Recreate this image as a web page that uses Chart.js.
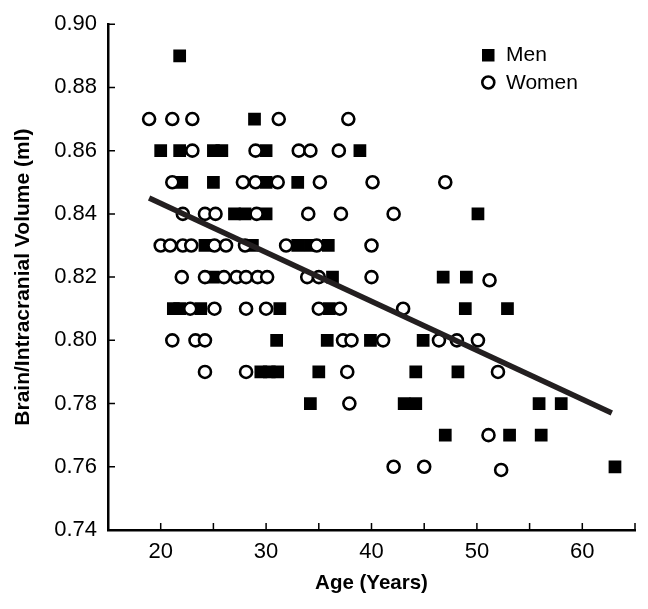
<!DOCTYPE html>
<html>
<head>
<meta charset="utf-8">
<script src="https://cdn.jsdelivr.net/npm/chart.js@4.4.0/dist/chart.umd.min.js"></script>
<style>
body { margin: 0; background: #fff; }
#wrap { width: 648px; height: 609px; }
</style>
</head>
<body>
<div id="wrap"><canvas id="myChart" width="648" height="609"></canvas></div>
<script>
// values
var menAge = [21.8,
    28.9,
    20.0, 21.8, 25.0, 25.8, 30.0, 38.9,
    22.0, 25.0, 30.0, 33.0,
    27.0, 28.0, 30.0, 50.1,
    24.2, 28.7, 33.0, 34.2, 35.9,
    25.0, 36.3, 46.8, 49.0,
    21.2, 21.8, 23.8, 31.3, 36.0, 48.9, 52.9,
    31.0, 35.8, 39.9, 44.9,
    29.5, 30.3, 31.1, 35.0, 44.2, 48.2,
    34.2, 43.1, 44.2, 55.9, 58.0,
    47.0, 53.1, 56.1,
    63.1];
var menVol = [0.89,
    0.87,
    0.86, 0.86, 0.86, 0.86, 0.86, 0.86,
    0.85, 0.85, 0.85, 0.85,
    0.84, 0.84, 0.84, 0.84,
    0.83, 0.83, 0.83, 0.83, 0.83,
    0.82, 0.82, 0.82, 0.82,
    0.81, 0.81, 0.81, 0.81, 0.81, 0.81, 0.81,
    0.80, 0.80, 0.80, 0.80,
    0.79, 0.79, 0.79, 0.79, 0.79, 0.79,
    0.78, 0.78, 0.78, 0.78, 0.78,
    0.77, 0.77, 0.77,
    0.76];
var womenAge = [18.9, 21.1, 23.0, 31.2, 37.8,
    23.0, 29.0, 33.1, 34.2, 36.9,
    21.1, 27.8, 29.0, 31.1, 35.1, 40.1, 47.0,
    22.1, 24.2, 25.2, 29.1, 34.0, 37.1, 42.1,
    20.0, 20.9, 22.1, 22.9, 25.1, 26.2, 28.0, 31.9, 34.8, 40.0,
    22.0, 24.2, 26.0, 27.2, 28.1, 29.2, 30.1, 33.9, 35.0, 40.0, 51.2,
    22.8, 25.1, 28.1, 30.0, 35.0, 37.0, 43.0,
    21.1, 23.3, 24.2, 37.3, 38.1, 41.1, 46.4, 48.1, 50.1,
    24.2, 28.1, 37.7, 52.0,
    37.9,
    51.1,
    42.1, 45.0, 52.3];
var womenVol = [0.87, 0.87, 0.87, 0.87, 0.87,
    0.86, 0.86, 0.86, 0.86, 0.86,
    0.85, 0.85, 0.85, 0.85, 0.85, 0.85, 0.85,
    0.84, 0.84, 0.84, 0.84, 0.84, 0.84, 0.84,
    0.83, 0.83, 0.83, 0.83, 0.83, 0.83, 0.83, 0.83, 0.83, 0.83,
    0.82, 0.82, 0.82, 0.82, 0.82, 0.82, 0.82, 0.82, 0.82, 0.82, 0.819,
    0.81, 0.81, 0.81, 0.81, 0.81, 0.81, 0.81,
    0.80, 0.80, 0.80, 0.80, 0.80, 0.80, 0.80, 0.80, 0.80,
    0.79, 0.79, 0.79, 0.79,
    0.78,
    0.77,
    0.76, 0.76, 0.759];
// regression line end points
var fitAge = [18.9, 62.8];
var fitVol = [0.845, 0.777];

var fontName = "'Liberation Sans', Arial, Helvetica, sans-serif";

function toPoints(xs, ys) {
    let pts = [];
    for (let i = 0; i < xs.length; i++) {
        pts.push({ x: xs[i], y: ys[i] });
    }
    return pts;
}

// tick marks point into the plot, like the original
var inwardTicks = {
    id: 'inwardTicks',
    beforeDatasetsDraw(chart) {
        let ctx = chart.ctx;
        let xs = chart.scales.x;
        let ys = chart.scales.y;
        ctx.save();
        ctx.strokeStyle = '#000';
        ctx.lineWidth = 1.5;
        ctx.beginPath();
        xs.ticks.forEach((t) => {
            let px = xs.getPixelForValue(t.value);
            ctx.moveTo(px, xs.top);
            ctx.lineTo(px, xs.top - 7);
        });
        ys.ticks.forEach((t) => {
            let py = ys.getPixelForValue(t.value);
            ctx.moveTo(ys.right, py);
            ctx.lineTo(ys.right + 7, py);
        });
        ctx.stroke();
        ctx.restore();
    }
};

// small legend in the top right corner
var cornerLegend = {
    id: 'cornerLegend',
    afterDraw(chart) {
        let ctx = chart.ctx;
        let men = chart.data.datasets[2];
        let women = chart.data.datasets[1];
        ctx.save();
        ctx.fillStyle = '#000';
        ctx.fillRect(482, 49, 12.5, 12.5);
        ctx.beginPath();
        ctx.arc(488.3, 82.5, 6.0, 0, Math.PI * 2);
        ctx.fillStyle = '#fff';
        ctx.fill();
        ctx.lineWidth = 2.6;
        ctx.strokeStyle = '#000';
        ctx.stroke();
        ctx.fillStyle = '#000';
        ctx.font = '21px ' + fontName;
        ctx.textBaseline = 'middle';
        ctx.fillText(men.label, 506, 55);
        ctx.fillText(women.label, 506, 83);
        ctx.restore();
    }
};

var ctx = document.getElementById('myChart');
var chart = new Chart(ctx, {
    type: 'scatter',
    data: {
        datasets: [
            {
                type: 'line',
                label: 'Fit',
                data: toPoints(fitAge, fitVol),
                borderColor: '#231f20',
                borderWidth: 5.5,
                borderCapStyle: 'butt',
                pointRadius: 0,
                fill: false
            },
            {
                label: 'Women',
                data: toPoints(womenAge, womenVol),
                pointStyle: 'circle',
                pointRadius: 6.0,
                borderWidth: 2.6,
                borderColor: '#000',
                backgroundColor: '#fff'
            },
            {
                label: 'Men',
                data: toPoints(menAge, menVol),
                pointStyle: 'rect',
                pointRadius: 9.0,
                borderWidth: 0,
                backgroundColor: '#000'
            }
        ]
    },
    options: {
        responsive: false,
        animation: false,
        layout: { padding: { top: 17, right: 13, bottom: 0, left: 0 } },
        scales: {
            x: {
                type: 'linear',
                min: 15,
                max: 65,
                grid: { display: false, drawTicks: false },
                border: { display: true, color: '#000', width: 2.5 },
                ticks: {
                    stepSize: 5,
                    autoSkip: false,
                    maxRotation: 0,
                    padding: 9,
                    color: '#000',
                    font: { family: fontName, size: 22 },
                    callback: (v) => (v % 10 === 0 ? v : '')
                },
                title: {
                    display: true,
                    text: 'Age (Years)',
                    color: '#000',
                    font: { family: fontName, size: 20.5, weight: 'bold' },
                    padding: { top: 0, bottom: 13 }
                },
                afterFit: (s) => { s.height = 79; }
            },
            y: {
                min: 0.74,
                max: 0.90,
                grid: { display: false, drawTicks: false },
                border: { display: true, color: '#000', width: 2.5 },
                ticks: {
                    stepSize: 0.02,
                    padding: 11,
                    color: '#000',
                    font: { family: fontName, size: 22 },
                    callback: (v) => Number(v).toFixed(2)
                },
                title: {
                    display: true,
                    text: 'Brain/Intracranial Volume (ml)',
                    color: '#000',
                    font: { family: fontName, size: 21, weight: 'bold' },
                    padding: { top: 11, bottom: 0 }
                },
                afterFit: (s) => { s.width = 108; }
            }
        },
        plugins: {
            legend: { display: false },
            tooltip: { enabled: false }
        }
    },
    plugins: [inwardTicks, cornerLegend]
});
</script>
</body>
</html>
